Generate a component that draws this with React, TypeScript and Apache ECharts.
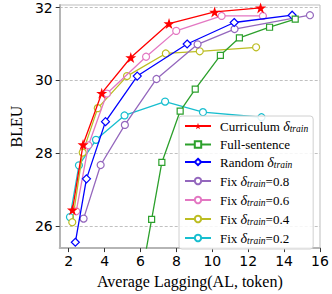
import React, { useEffect, useRef } from "react";
import * as echarts from "echarts";

const seriesNames = ["Curriculum", "Full-sentence", "Random", "Fix0.8", "Fix0.6", "Fix0.4", "Fix0.2"];

const curriculumX = [2.21, 2.8, 3.84, 5.46, 7.59, 10.13, 12.69];
const curriculumY = [26.45, 28.24, 29.65, 30.63, 31.56, 31.88, 31.99];

const fullX = [5.83, 6.62, 7.19, 8.21, 9.05, 10.45, 11.51, 13.19, 14.62];
const fullY = [24.0, 26.19, 27.75, 29.16, 29.76, 30.69, 31.17, 31.46, 31.68];

const randomX = [2.37, 2.99, 4.05, 5.82, 8.6, 11.22, 14.45];
const randomY = [25.56, 27.3, 28.87, 30.12, 31.0, 31.59, 31.79];

const fix08X = [2.83, 3.78, 5.13, 6.89, 9.18, 11.24, 15.44];
const fix08Y = [26.21, 27.68, 28.78, 30.04, 30.99, 31.41, 31.79];

const fix06X = [2.42, 3.1, 4.13, 6.31, 7.99, 10.52, 12.82];
const fix06Y = [26.41, 28.22, 29.64, 30.65, 31.36, 31.77, 31.77];

const fix04X = [2.2, 2.78, 3.62, 5.25, 7.41, 9.3, 12.44];
const fix04Y = [26.11, 28.02, 29.24, 30.12, 30.74, 30.8, 30.91];

const fix02X = [2.07, 2.57, 3.52, 5.11, 7.37, 9.48, 12.74];
const fix02Y = [26.25, 27.67, 28.37, 29.04, 29.42, 29.13, 28.99];

const xTicks = [2, 4, 6, 8, 10, 12, 14, 16];
const yTicks = [26, 28, 30, 32];

const colors = ["#ff0000", "#2ca02c", "#0000ff", "#9467bd", "#e377c2", "#bcbd22", "#17becf"];

const STAR =
  "path://M50,0 L61.8,35.1 L98.8,35.1 L68.8,56.8 L80.2,91.9 L50,70.2 L19.8,91.9 L31.2,56.8 L1.2,35.1 L38.2,35.1 Z";

const SERIF = "Liberation Serif";
const SANS = "DejaVu Sans";

function pairs(xs: number[], ys: number[]) {
  return xs.map((x, i) => [x, ys[i]]);
}

const legendLabels: Record<string, string> = {
  Curriculum: "{n|Curriculum }{d|δ}{s|train}",
  "Full-sentence": "{n|Full-sentence}",
  Random: "{n|Random }{d|δ}{s|train}",
  "Fix0.8": "{n|Fix }{d|δ}{s|train}{n|=0.8}",
  "Fix0.6": "{n|Fix }{d|δ}{s|train}{n|=0.6}",
  "Fix0.4": "{n|Fix }{d|δ}{s|train}{n|=0.4}",
  "Fix0.2": "{n|Fix }{d|δ}{s|train}{n|=0.2}",
};

export default function App() {
  const ref = useRef<HTMLDivElement>(null);
  useEffect(() => {
    if (!ref.current) return;
    const chart = echarts.init(ref.current, undefined, { renderer: "svg" });
    const dataSets = [
      pairs(curriculumX, curriculumY),
      pairs(fullX, fullY),
      pairs(randomX, randomY),
      pairs(fix08X, fix08Y),
      pairs(fix06X, fix06Y),
      pairs(fix04X, fix04Y),
      pairs(fix02X, fix02Y),
    ];
    const symbols = [STAR, "rect", "diamond", "circle", "circle", "circle", "circle"];
    const sizes = [11, 6, 8, 7, 7, 7, 7];
    const series: any[] = seriesNames.map((name, i) => ({
      name,
      type: "line",
      data: dataSets[i],
      symbol: symbols[i],
      symbolSize: sizes[i],
      showAllSymbol: true,
      clip: true,
      z: 2 + (7 - i),
      lineStyle: { color: colors[i], width: 1.3 },
      itemStyle: {
        color: i === 0 ? colors[i] : "#ffffff",
        borderColor: colors[i],
        borderWidth: i === 0 ? 0 : 1.2,
      },
      emphasis: { disabled: true },
    }));
    chart.setOption({
      animation: false,
      backgroundColor: "#ffffff",
      grid: {
        left: 46,
        right: 12,
        top: 5,
        bottom: 42,
        show: true,
        borderColor: "#bdbdbd",
        borderWidth: 1,
        backgroundColor: "transparent",
      },
      legend: {
        data: seriesNames,
        orient: "vertical",
        left: 179,
        top: 116,
        padding: [3, 5, 3, 5],
        itemWidth: 26,
        itemHeight: 8,
        itemGap: 4,
        backgroundColor: "rgba(255,255,255,0.85)",
        borderColor: "#d0d0d0",
        borderWidth: 1,
        borderRadius: 3,
        formatter: (name: string) => legendLabels[name],
        textStyle: {
          color: "#000",
          fontFamily: SERIF,
          fontSize: 13,
          padding: [0, 0, 0, 4],
          rich: {
            n: { fontFamily: SERIF, fontSize: 13, color: "#000" },
            d: { fontFamily: SERIF, fontSize: 14, fontStyle: "italic", color: "#000" },
            s: {
              fontFamily: SERIF,
              fontSize: 9.5,
              fontStyle: "italic",
              color: "#000",
              padding: [6, 0, 0, 0],
            },
          },
        },
      },
      xAxis: {
        type: "value",
        min: 1.5,
        max: 16,
        name: "Average Lagging(AL, token)",
        nameLocation: "middle",
        nameGap: 21,
        nameTextStyle: { fontFamily: SERIF, fontSize: 16, color: "#000" },
        axisLine: { show: true, onZero: false, lineStyle: { color: "#b5b5b5", width: 2 } },
        axisTick: {
          show: true,
          length: 4,
          customValues: xTicks,
          lineStyle: { color: "#333", width: 1 },
        },
        axisLabel: {
          customValues: xTicks,
          fontFamily: SANS,
          fontSize: 14,
          color: "#000",
          margin: 6,
        },
        splitLine: { show: false },
      },
      yAxis: {
        type: "value",
        min: 25.4,
        max: 32.07,
        name: "BLEU",
        nameLocation: "middle",
        nameGap: 29,
        nameTextStyle: { fontFamily: SERIF, fontSize: 16, color: "#000" },
        axisLine: { show: true, onZero: false, lineStyle: { color: "#b5b5b5", width: 2 } },
        axisTick: {
          show: true,
          length: 4,
          customValues: yTicks,
          lineStyle: { color: "#333", width: 1 },
        },
        axisLabel: {
          customValues: yTicks,
          fontFamily: SANS,
          fontSize: 14,
          color: "#000",
          margin: 7,
        },
        splitLine: {
          show: true,
          lineStyle: { color: "#b0b0b0", type: [3, 2], width: 0.8 },
        },
      },
      series,
    });
    return () => chart.dispose();
  }, []);
  return (
    <div
      ref={ref}
      style={{ position: "fixed", left: 0, top: 0, width: 332, height: 294 }}
    />
  );
}
